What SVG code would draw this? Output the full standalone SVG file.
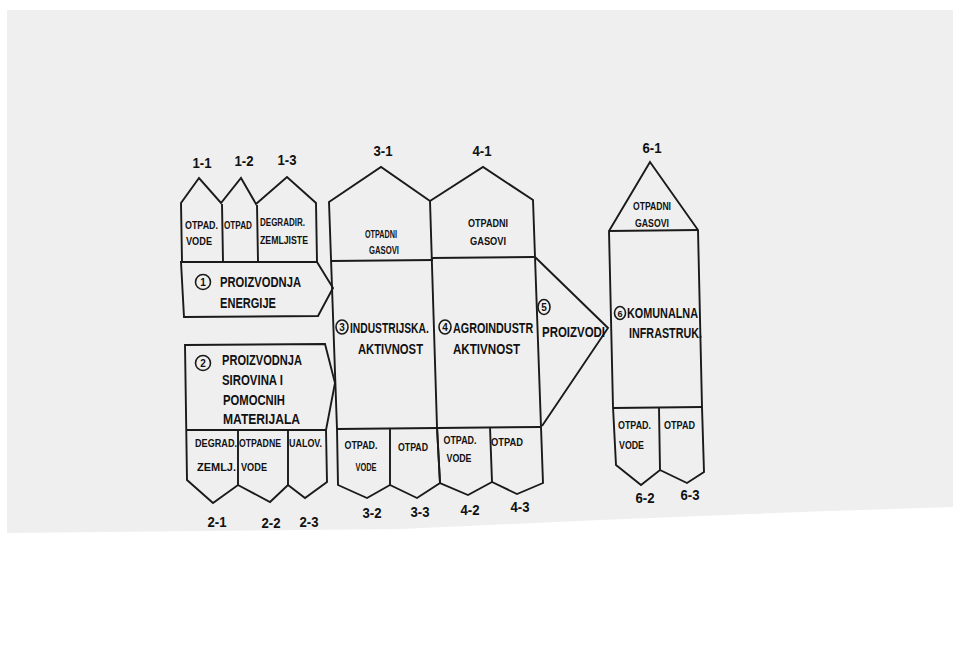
<svg xmlns="http://www.w3.org/2000/svg" width="953" height="660" viewBox="0 0 953 660">
<style>
.s{fill:none;stroke:#1a1a1a;stroke-width:1.9;stroke-linejoin:miter}
.c{fill:none;stroke:#1a1a1a;stroke-width:1.6}
.t{font-family:"Liberation Sans",Arial,sans-serif;font-weight:bold;fill:#111}
.b{font-size:14px}
.m{font-size:10px}
.n{font-size:14px;text-anchor:middle}
.d{font-size:10px;text-anchor:middle}
.mc{font-size:10px;text-anchor:middle}
</style>
<rect x="0" y="0" width="953" height="660" fill="#ffffff"/>
<polygon points="7,10 953,10 953,507 800,512 600,520 400,529 7,533" fill="#efefef"/>

<g id="node1">
<path class="s" d="M182,262 L181,203 L199,178 L221,203 L241,178 L256,204 L287,177 L316,203 L317,262"/>
<path class="s" d="M222,204 L223,261 M257,205 L258,261"/>
<path class="s" d="M181,262 L317,262 L333,288 L318,316 L184,317 Z"/>
<text class="t m" x="185" y="229" textLength="33" lengthAdjust="spacingAndGlyphs">OTPAD.</text>
<text class="t m" x="186" y="245" textLength="26" lengthAdjust="spacingAndGlyphs">VODE</text>
<text class="t m" x="224" y="229" textLength="28" lengthAdjust="spacingAndGlyphs">OTPAD</text>
<text class="t m" x="260" y="226" textLength="45" lengthAdjust="spacingAndGlyphs">DEGRADIR.</text>
<text class="t m" x="260" y="244" textLength="48" lengthAdjust="spacingAndGlyphs">ZEMLJISTE</text>
<circle class="c" cx="203" cy="282" r="7.5"/>
<text class="t d" x="203" y="286">1</text>
<text class="t b" x="220" y="287" textLength="81" lengthAdjust="spacingAndGlyphs">PROIZVODNJA</text>
<text class="t b" x="220" y="308" textLength="56" lengthAdjust="spacingAndGlyphs">ENERGIJE</text>
<text class="t n" x="202" y="168" textLength="19" lengthAdjust="spacingAndGlyphs">1-1</text>
<text class="t n" x="244" y="166" textLength="19" lengthAdjust="spacingAndGlyphs">1-2</text>
<text class="t n" x="287" y="165" textLength="19" lengthAdjust="spacingAndGlyphs">1-3</text>
</g>

<g id="node2">
<path class="s" d="M185,345 L325,344 L335,383 L326,430 L327,482 L305,498 L288,485 L270,502 L238,485 L213,503 L187,480 Z"/>
<path class="s" d="M186,430 L326,430 M238,431 L238,485 M288,431 L288,485"/>
<circle class="c" cx="203" cy="363" r="7.5"/>
<text class="t d" x="203" y="367">2</text>
<text class="t b" x="222" y="365" textLength="80" lengthAdjust="spacingAndGlyphs">PROIZVODNJA</text>
<text class="t b" x="222" y="385" textLength="61" lengthAdjust="spacingAndGlyphs">SIROVINA I</text>
<text class="t b" x="223" y="405" textLength="62" lengthAdjust="spacingAndGlyphs">POMOCNIH</text>
<text class="t b" x="223" y="424" textLength="77" lengthAdjust="spacingAndGlyphs">MATERIJALA</text>
<text class="t m" x="195" y="447" textLength="42" lengthAdjust="spacingAndGlyphs">DEGRAD.</text>
<text class="t m" x="239" y="447" textLength="42" lengthAdjust="spacingAndGlyphs">OTPADNE</text>
<text class="t m" x="289" y="447" textLength="33" lengthAdjust="spacingAndGlyphs">UALOV.</text>
<text class="t m" x="197" y="471" textLength="39" lengthAdjust="spacingAndGlyphs">ZEMLJ.</text>
<text class="t m" x="241" y="471" textLength="26" lengthAdjust="spacingAndGlyphs">VODE</text>
<text class="t n" x="217" y="527" textLength="19" lengthAdjust="spacingAndGlyphs">2-1</text>
<text class="t n" x="271" y="528" textLength="19" lengthAdjust="spacingAndGlyphs">2-2</text>
<text class="t n" x="309" y="527" textLength="19" lengthAdjust="spacingAndGlyphs">2-3</text>
</g>

<g id="node3">
<path class="s" d="M329,202 L381,167 L430,201 L437,427 L440,483 L417,498 L390,485 L367,498 L338,485 L337,429 Z"/>
<path class="s" d="M331,261 L433,260 M337,429 L438,428 M390,429 L390,485"/>
<text class="t mc" x="381" y="238" textLength="32" lengthAdjust="spacingAndGlyphs">OTPADNI</text>
<text class="t mc" x="384" y="254" textLength="30" lengthAdjust="spacingAndGlyphs">GASOVI</text>
<ellipse class="c" cx="342" cy="327" rx="6" ry="7"/>
<text class="t d" x="342" y="331">3</text>
<text class="t b" transform="translate(350,333) scale(0.735,1)">INDUSTRIJSKA.</text>
<text class="t b" x="358" y="354" textLength="65" lengthAdjust="spacingAndGlyphs">AKTIVNOST</text>
<text class="t mc" x="361" y="449" textLength="33" lengthAdjust="spacingAndGlyphs">OTPAD.</text>
<text class="t mc" x="366" y="471" textLength="21" lengthAdjust="spacingAndGlyphs">VODE</text>
<text class="t mc" x="413" y="451" textLength="30" lengthAdjust="spacingAndGlyphs">OTPAD</text>
<text class="t n" x="372" y="518" textLength="19" lengthAdjust="spacingAndGlyphs">3-2</text>
<text class="t n" x="420" y="517" textLength="19" lengthAdjust="spacingAndGlyphs">3-3</text>
<text class="t n" x="383" y="156" textLength="19" lengthAdjust="spacingAndGlyphs">3-1</text>
</g>

<g id="node4">
<path class="s" d="M430,201 L483,167 L533,200 L541,427 L543,483 L517,494 L492,482 L468,495 L440,483 L437,427"/>
<path class="s" d="M431,258 L534,257 M437,428 L541,427 M490,427 L492,482"/>
<text class="t mc" x="488" y="227" textLength="40" lengthAdjust="spacingAndGlyphs">OTPADNI</text>
<text class="t mc" x="488" y="245" textLength="36" lengthAdjust="spacingAndGlyphs">GASOVI</text>
<ellipse class="c" cx="445" cy="327" rx="6" ry="7"/>
<text class="t d" x="445" y="331">4</text>
<text class="t b" transform="translate(453,333) scale(0.77,1)">AGROINDUSTR</text>
<text class="t b" x="453" y="354" textLength="67" lengthAdjust="spacingAndGlyphs">AKTIVNOST</text>
<text class="t mc" x="460" y="444" textLength="33" lengthAdjust="spacingAndGlyphs">OTPAD.</text>
<text class="t mc" x="459" y="462" textLength="25" lengthAdjust="spacingAndGlyphs">VODE</text>
<text class="t mc" x="507" y="446" textLength="32" lengthAdjust="spacingAndGlyphs">OTPAD</text>
<text class="t n" x="470" y="515" textLength="19" lengthAdjust="spacingAndGlyphs">4-2</text>
<text class="t n" x="520" y="512" textLength="19" lengthAdjust="spacingAndGlyphs">4-3</text>
<text class="t n" x="482" y="156" textLength="19" lengthAdjust="spacingAndGlyphs">4-1</text>
</g>

<g id="node5">
<path class="s" d="M535,257 L608,328 L542,426"/>
<ellipse class="c" cx="544" cy="307" rx="6" ry="7.5"/>
<text class="t d" x="544" y="311">5</text>
<text class="t b" x="542" y="337" textLength="63" lengthAdjust="spacingAndGlyphs">PROIZVODI</text>
</g>

<g id="node6">
<path class="s" d="M650,162 L698,230 L702,407 L704,472 L687,483 L660,470 L641,485 L616,465 L613,407 L609,231 Z"/>
<path class="s" d="M609,231 L698,230 M613,408 L702,407 M659,408 L660,470"/>
<text class="t mc" x="652" y="210" textLength="38" lengthAdjust="spacingAndGlyphs">OTPADNI</text>
<text class="t mc" x="652" y="227" textLength="34" lengthAdjust="spacingAndGlyphs">GASOVI</text>
<ellipse class="c" cx="620" cy="313" rx="5.5" ry="6.5"/>
<text class="t d" x="620" y="317" style="font-size:9px">6</text>
<text class="t b" x="627" y="318" textLength="71" lengthAdjust="spacingAndGlyphs">KOMUNALNA</text>
<text class="t b" x="629" y="338" textLength="73" lengthAdjust="spacingAndGlyphs">INFRASTRUK.</text>
<text class="t m" x="618" y="429" textLength="33" lengthAdjust="spacingAndGlyphs">OTPAD.</text>
<text class="t m" x="619" y="449" textLength="25" lengthAdjust="spacingAndGlyphs">VODE</text>
<text class="t m" x="664" y="429" textLength="31" lengthAdjust="spacingAndGlyphs">OTPAD</text>
<text class="t n" x="652" y="153" textLength="19" lengthAdjust="spacingAndGlyphs">6-1</text>
<text class="t n" x="645" y="503" textLength="19" lengthAdjust="spacingAndGlyphs">6-2</text>
<text class="t n" x="690" y="500" textLength="19" lengthAdjust="spacingAndGlyphs">6-3</text>
</g>

<g id="connectors"></g>
</svg>
